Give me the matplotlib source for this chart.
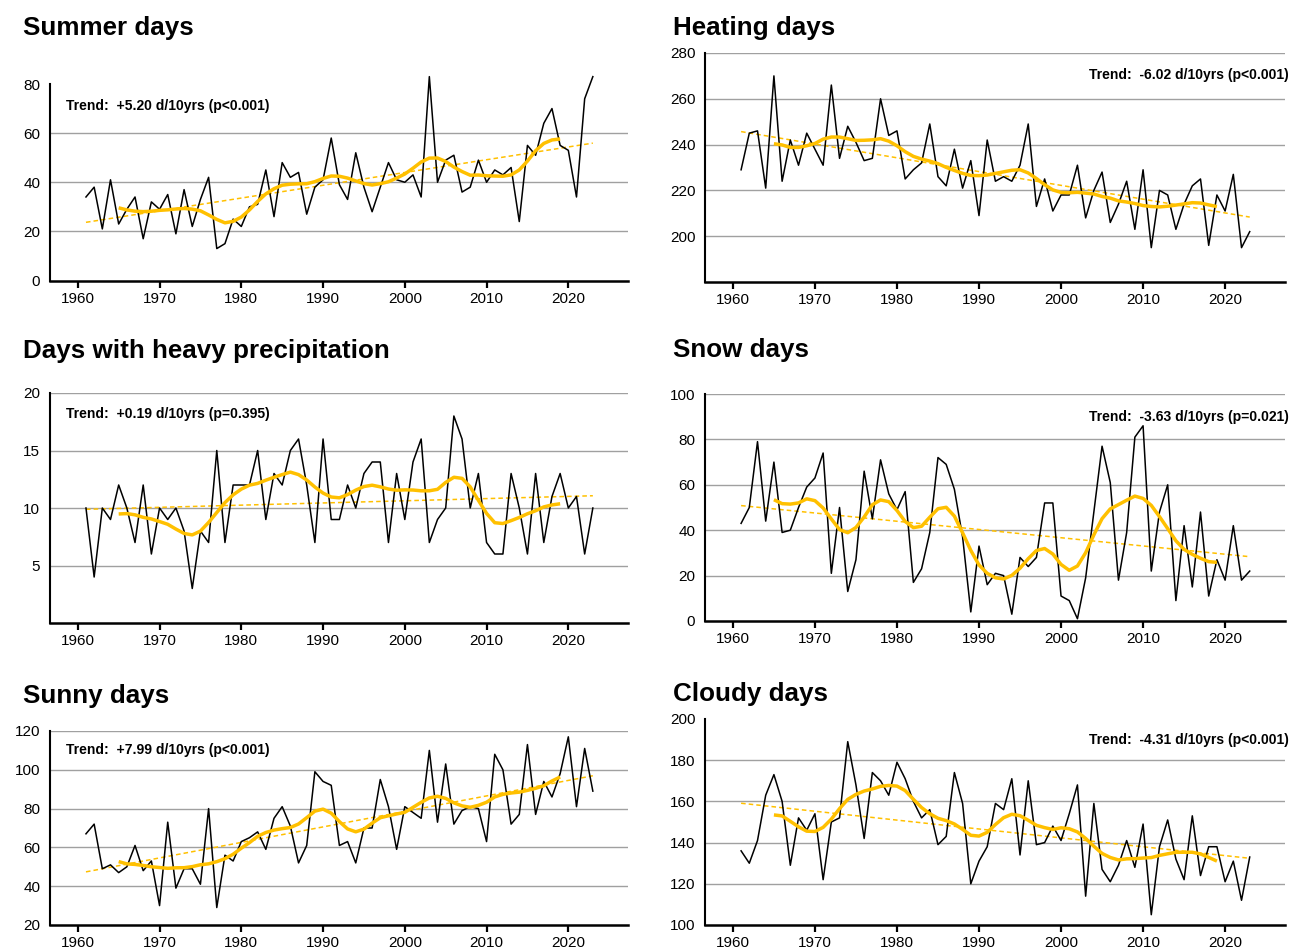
import numpy as np
import matplotlib
matplotlib.use("Agg")
import matplotlib.pyplot as plt

plt.rcParams['font.family'] = ['Liberation Sans', 'DejaVu Sans']

years = np.arange(1961, 2024)

summer_days = [34, 38, 21, 41, 23, 29, 34, 17, 32, 29,
               35, 19, 37, 22, 33, 42, 13, 15, 25, 22,
               30, 31, 45, 26, 48, 42, 44, 27, 38, 41,
               58, 39, 33, 52, 38, 28, 38, 48, 41, 40,
               43, 34, 83, 40, 49, 51, 36, 38, 49, 40,
               45, 43, 46, 24, 55, 51, 64, 70, 55, 53,
               34, 74, 83]
heating_days = [229, 245, 246, 221, 270, 224, 242, 231, 245, 238,
                231, 266, 234, 248, 241, 233, 234, 260, 244, 246,
                225, 229, 232, 249, 226, 222, 238, 221, 233, 209,
                242, 224, 226, 224, 231, 249, 213, 225, 211, 218,
                218, 231, 208, 220, 228, 206, 214, 224, 203, 229,
                195, 220, 218, 203, 214, 222, 225, 196, 218, 211,
                227, 195, 202]
heavy_precip_days = [10, 4, 10, 9, 12, 10, 7, 12, 6, 10,
                     9, 10, 8, 3, 8, 7, 15, 7, 12, 12,
                     12, 15, 9, 13, 12, 15, 16, 12, 7, 16,
                     9, 9, 12, 10, 13, 14, 14, 7, 13, 9,
                     14, 16, 7, 9, 10, 18, 16, 10, 13, 7,
                     6, 6, 13, 10, 6, 13, 7, 11, 13, 10,
                     11, 6, 10]
snow_days = [43, 50, 79, 44, 70, 39, 40, 50, 59, 63,
             74, 21, 50, 13, 27, 66, 45, 71, 56, 49,
             57, 17, 23, 39, 72, 69, 58, 37, 4, 33,
             16, 21, 20, 3, 28, 24, 28, 52, 52, 11,
             9, 1, 19, 48, 77, 61, 18, 39, 81, 86,
             22, 48, 60, 9, 42, 15, 48, 11, 27, 18,
             42, 18, 22]
sunny_days = [67, 72, 49, 51, 47, 50, 61, 48, 53, 30,
              73, 39, 49, 49, 41, 80, 29, 56, 53, 63,
              65, 68, 59, 75, 81, 71, 52, 61, 99, 94,
              92, 61, 63, 52, 70, 70, 95, 81, 59, 81,
              78, 75, 110, 73, 103, 72, 79, 81, 80, 63,
              108, 100, 72, 77, 113, 77, 94, 86, 98, 117,
              81, 111, 89]
cloudy_days = [136, 130, 141, 163, 173, 160, 129, 152, 146, 154,
               122, 150, 152, 189, 168, 142, 174, 170, 163, 179,
               171, 160, 152, 156, 139, 143, 174, 159, 120, 131,
               138, 159, 156, 171, 134, 170, 139, 140, 148, 141,
               154, 168, 114, 159, 127, 121, 129, 141, 128, 149,
               105, 138, 151, 132, 122, 153, 124, 138, 138, 121,
               131, 112, 133]

titles = ["Summer days", "Heating days", "Days with heavy precipitation",
          "Snow days", "Sunny days", "Cloudy days"]
series = [summer_days, heating_days, heavy_precip_days,
          snow_days, sunny_days, cloudy_days]
# trend in days per decade and its p-value text
trend_per_decade = [5.20, -6.02, 0.19, -3.63, 7.99, -4.31]
p_texts = ["p<0.001", "p<0.001", "p=0.395", "p=0.021", "p<0.001", "p<0.001"]
y_ticks = [[0, 20, 40, 60, 80], [200, 220, 240, 260, 280], [5, 10, 15, 20],
           [0, 20, 40, 60, 80, 100], [20, 40, 60, 80, 100, 120],
           [100, 120, 140, 160, 180, 200]]
grid_levels = [[20, 40, 60], [200, 220, 240, 260, 280], [5, 10, 15, 20],
               [20, 40, 60, 80, 100], [40, 60, 80, 100, 120],
               [120, 140, 160, 180]]
y_limits = [(0, 80), (180, 280), (0, 20), (0, 100), (20, 120), (100, 200)]
x_ticks = [1960, 1970, 1980, 1990, 2000, 2010, 2020]

W, H = 1300, 952
# axes boxes in pixels: left, top, right, bottom
boxes = [(50, 84, 628, 280.5), (705, 53, 1285, 282),
         (50, 393, 628, 623), (705, 394, 1285, 621),
         (50, 731, 628, 925), (705, 719, 1285, 925)]
title_pos = [(23, 35), (673, 35), (23, 358), (673, 357), (23, 703), (673, 701)]
trend_pos = [(66, 106, 'left'), (1289, 75, 'right'), (66, 414, 'left'),
             (1289, 417, 'right'), (66, 750, 'left'), (1289, 740, 'right')]

YELLOW = '#FFC000'


def gauss_smooth(vals, half=4, sigma=2.0):
    k = np.exp(-0.5 * (np.arange(-half, half + 1) / sigma) ** 2)
    k /= k.sum()
    return np.convolve(np.asarray(vals, float), k, mode='valid')


fig = plt.figure(figsize=(W / 100, H / 100), dpi=100)

for i in range(6):
    l, t, r, b = boxes[i]
    ax = fig.add_axes([l / W, 1 - b / H, (r - l) / W, (b - t) / H])
    vals = np.array(series[i], float)

    for g in grid_levels[i]:
        ax.axhline(g, color='#a0a0a0', lw=1.0, zorder=0)

    # linear trend with the stated slope, through the mean point
    slope = trend_per_decade[i] / 10.0
    icpt = vals.mean() - slope * years.mean()
    ax.plot(years, icpt + slope * years, color=YELLOW, lw=1.1,
            dashes=(3, 2), zorder=2)

    ax.plot(years, vals, color='black', lw=1.1, zorder=3, clip_on=False)

    sm = gauss_smooth(vals)
    ax.plot(years[4:-4], sm, color=YELLOW, lw=2.5, zorder=4,
            solid_capstyle='butt')

    ax.set_xlim(1956.6, 2027.3)
    ax.set_ylim(*y_limits[i])
    ax.set_xticks(x_ticks)
    ax.set_yticks(y_ticks[i])
    ax.tick_params(axis='x', direction='out', length=5, width=1.6,
                   labelsize=11, pad=3)
    ax.tick_params(axis='y', length=0, labelsize=11, pad=7)
    for s in ('top', 'right'):
        ax.spines[s].set_visible(False)
    ax.spines['left'].set_linewidth(1.5)
    ax.spines['bottom'].set_linewidth(1.8)

    tx, ty = title_pos[i]
    fig.text(tx / W, 1 - ty / H, titles[i], fontsize=18.7, fontweight='bold',
             ha='left', va='baseline')

    sign = '+' if trend_per_decade[i] > 0 else '-'
    label = "Trend:  {}{:.2f} d/10yrs ({})".format(
        sign, abs(trend_per_decade[i]), p_texts[i])
    px, py, ha = trend_pos[i]
    fig.text(px / W, 1 - py / H, label, fontsize=10, fontweight='bold',
             ha=ha, va='center')

fig.savefig('out.png', dpi=100, facecolor='white')
